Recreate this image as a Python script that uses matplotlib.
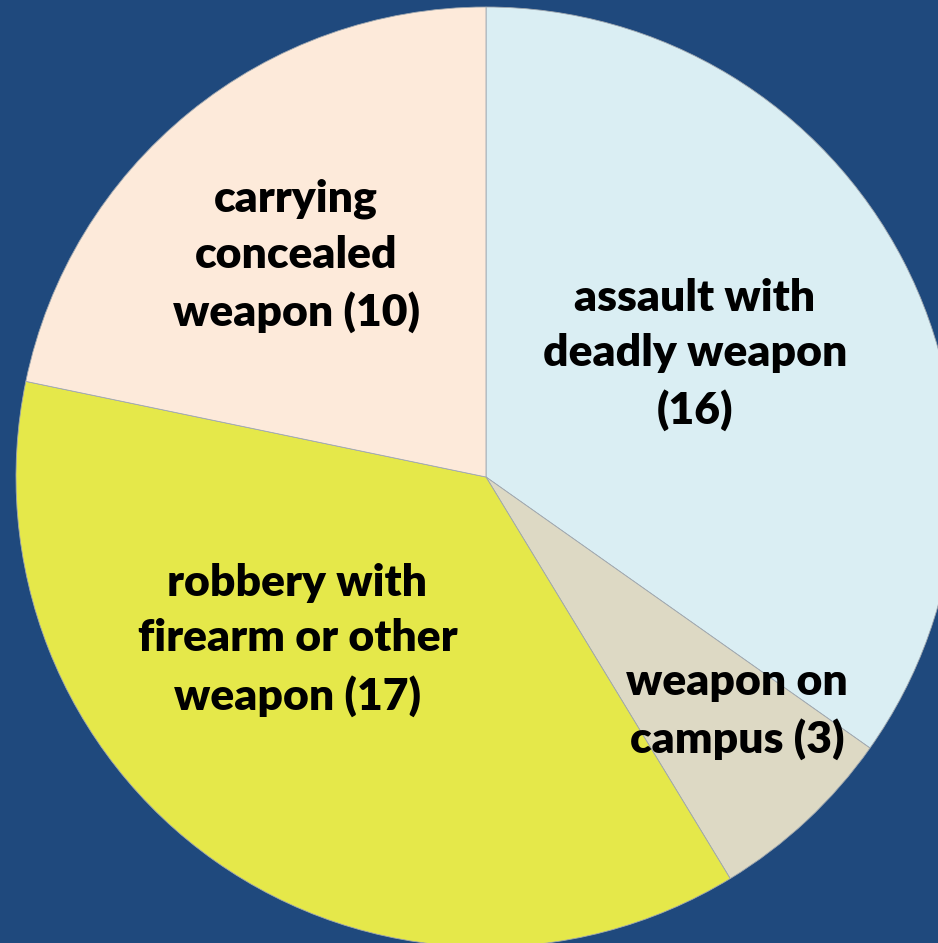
import matplotlib
matplotlib.use("Agg")
import matplotlib.pyplot as plt
import numpy as np

categories = ["assault with\ndeadly weapon\n(16)", "weapon on\ncampus (3)",
              "robbery with\nfirearm or other\nweapon (17)", "carrying\nconcealed\nweapon (10)"]
values = [16, 3, 17, 10]
colors = ["#DAEEF3", "#DDD9C4", "#E5E84A", "#FDEADA"]
# label placement (fraction of radius, angle offset in degrees from wedge middle)
label_r = [0.515, 0.73, 0.53, 0.62]
label_da = [3.0, 4.0, -14.0, 1.5]

W, H = 938, 943
fig = plt.figure(figsize=(W / 100, H / 100), dpi=100)
fig.patch.set_facecolor("#1F497D")
ax = fig.add_axes([0, 0, 1, 1])

cx, cy, R = 486, H - 477, 470
wedges, _ = ax.pie(values, colors=colors, startangle=90, counterclock=False,
                   center=(cx, cy), radius=R, frame=True,
                   wedgeprops=dict(edgecolor="#A0A8B0", linewidth=0.6))
ax.set_xlim(0, W)
ax.set_ylim(0, H)
ax.set_aspect("equal")
ax.axis("off")

for w, lab, rf, da in zip(wedges, categories, label_r, label_da):
    mid = np.deg2rad((w.theta1 + w.theta2) / 2 + da)
    x = cx + rf * R * np.cos(mid)
    y = cy + rf * R * np.sin(mid)
    ax.text(x, y, lab, ha="center", va="center", fontsize=32, fontweight="heavy",
            family=["Lato", "DejaVu Sans"], color="black", linespacing=1.47)

fig.savefig("out.png", dpi=100, facecolor=fig.get_facecolor())
